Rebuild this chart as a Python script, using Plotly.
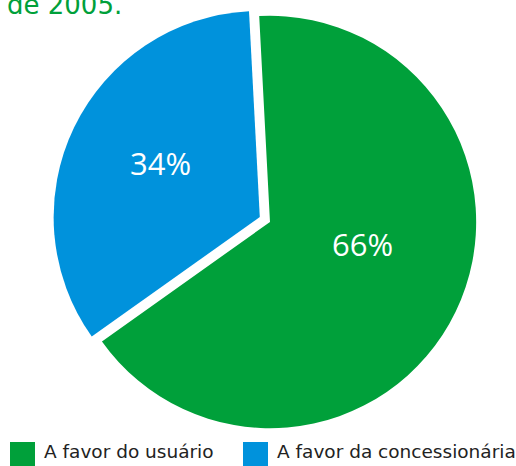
import plotly.graph_objects as go

labels = ["A favor do usuário", "A favor da concessionária"]
values = [66, 34]
colors = ["#00A03A", "#0092DC"]
pulls = [0, 0.055]
title_tail = "de 2005."

W, H = 516, 466

fig = go.Figure()
fig.add_trace(go.Pie(
    labels=labels,
    values=values,
    sort=False,
    direction="clockwise",
    rotation=-3,
    pull=pulls,
    marker=dict(colors=colors, line=dict(width=0)),
    textinfo="none",
    showlegend=False,
    hoverinfo="label+percent",
    domain=dict(x=[24 / W, 1.0], y=[1 - 439.5 / H, 1 - 4.5 / H]),
))

shapes = []
annotations = []
sq_x = [10, 243]
tx_x = [42, 275]
for i, lab in enumerate(labels):
    shapes.append(dict(type="rect", xref="paper", yref="paper",
                       x0=sq_x[i] / W, x1=(sq_x[i] + 25) / W,
                       y0=1 - 466 / H, y1=1 - 442 / H,
                       fillcolor=colors[i], line=dict(width=0)))
    annotations.append(dict(text=lab, xref="paper", yref="paper",
                            x=tx_x[i] / W, y=1 - 451 / H,
                            xanchor="left", yanchor="middle", showarrow=False,
                            font=dict(family="DejaVu Sans", size=18.5, color="#222222")))

# percentage labels inside the slices
lbl_pos = [(362, 244), (160, 163)]
for i, v in enumerate(values):
    annotations.append(dict(text=f"{v}%", xref="paper", yref="paper",
                            x=lbl_pos[i][0] / W, y=1 - lbl_pos[i][1] / H,
                            xanchor="center", yanchor="middle", showarrow=False,
                            font=dict(family="Open Sans", size=31, color="white")))

annotations.append(dict(text=title_tail, xref="paper", yref="paper",
                        x=5 / W, y=1 - 22 / H, xanchor="left", yanchor="bottom",
                        showarrow=False,
                        font=dict(family="DejaVu Sans", size=26, color="#00A03A")))

fig.update_layout(
    width=W, height=H,
    margin=dict(l=0, r=0, t=0, b=0),
    paper_bgcolor="white",
    plot_bgcolor="white",
    shapes=shapes,
    annotations=annotations,
)

fig.write_html("out.html")
